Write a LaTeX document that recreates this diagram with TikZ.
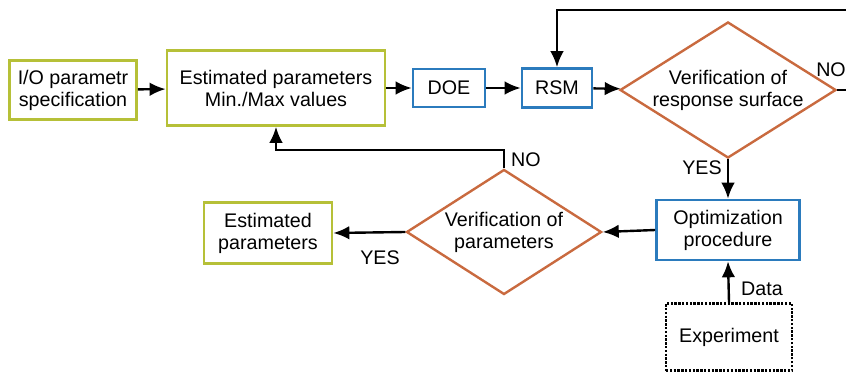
\documentclass[tikz,border=0pt]{standalone}
\usepackage{fontspec}
\setmainfont{Liberation Sans}
\usetikzlibrary{shapes.geometric,arrows.meta}
\definecolor{boxgreen}{RGB}{182,192,56}
\definecolor{boxblue}{RGB}{43,123,189}
\definecolor{boxorange}{RGB}{201,106,63}
\begin{document}
\begin{tikzpicture}[x=0.025cm, y=-0.025cm,
  every node/.style={font=\fontsize{14}{15.6}\selectfont, align=center},
  greenbox/.style={draw=boxgreen, line width=0.65mm, inner sep=0pt},
  bluebox/.style={draw=boxblue, line width=0.65mm, inner sep=0pt},
  check/.style={draw=boxorange, line width=0.6mm, diamond, inner sep=0pt, aspect=1.6},
  flow/.style={line width=0.6mm, -{Latex[length=4mm,width=3.4mm]}}]
  \clip (0,0) rectangle (846,373);
  \node[greenbox, minimum width=3.175cm, minimum height=1.475cm] (io) at (73,90) {I/O parametr\\specification};
  \node[greenbox, minimum width=5.45cm, minimum height=1.875cm] (estmm) at (276,88) {Estimated parameters\\Min./Max values};
  \node[bluebox, minimum width=1.8cm, minimum height=0.95cm] (doe) at (449,88) {DOE};
  \node[bluebox, minimum width=1.75cm, minimum height=0.975cm] (rsm) at (557,88) {RSM};
  \node[check, minimum width=5.4cm, minimum height=3.4cm] (vrs) at (728,90) {Verification of\\response surface};
  \node[bluebox, minimum width=3.575cm, minimum height=1.5cm] (opt) at (728,230) {Optimization\\procedure};
  \node[draw, densely dotted, line width=0.6mm, minimum width=3.15cm, minimum height=1.675cm] (exp) at (729,337) {Experiment};
  \node[check, minimum width=4.875cm, minimum height=3.125cm] (vpar) at (504,232) {Verification of\\parameters};
  \node[greenbox, minimum width=3.2cm, minimum height=1.525cm] (estp) at (268,233) {Estimated\\parameters};
  \coordinate (topr) at (870,10);
  \coordinate (nocorner) at (504,150);
  \draw[flow] (io) -- (estmm);
  \draw[flow] (estmm) -- (doe);
  \draw[flow] (doe) -- (rsm);
  \draw[flow] (rsm) -- (vrs);
  \draw[flow] (vrs.east) -| (topr) -| (rsm.north);
  \draw[flow] (vrs.south) -- (opt.north);
  \draw[flow] (exp.north) -- (opt.south);
  \draw[flow] (opt.west) -- (vpar.east);
  \draw[flow] (vpar.west) -- (estp.east);
  \draw[flow] (vpar.north) -- (nocorner) -| (estmm.south);
  \node (no1) at (831,70) {NO};
  \node (yes1) at (702,168) {YES};
  \node (data) at (762,289) {Data};
  \node (no2) at (526,160) {NO};
  \node (yes2) at (380,258) {YES};
\end{tikzpicture}
\end{document}
